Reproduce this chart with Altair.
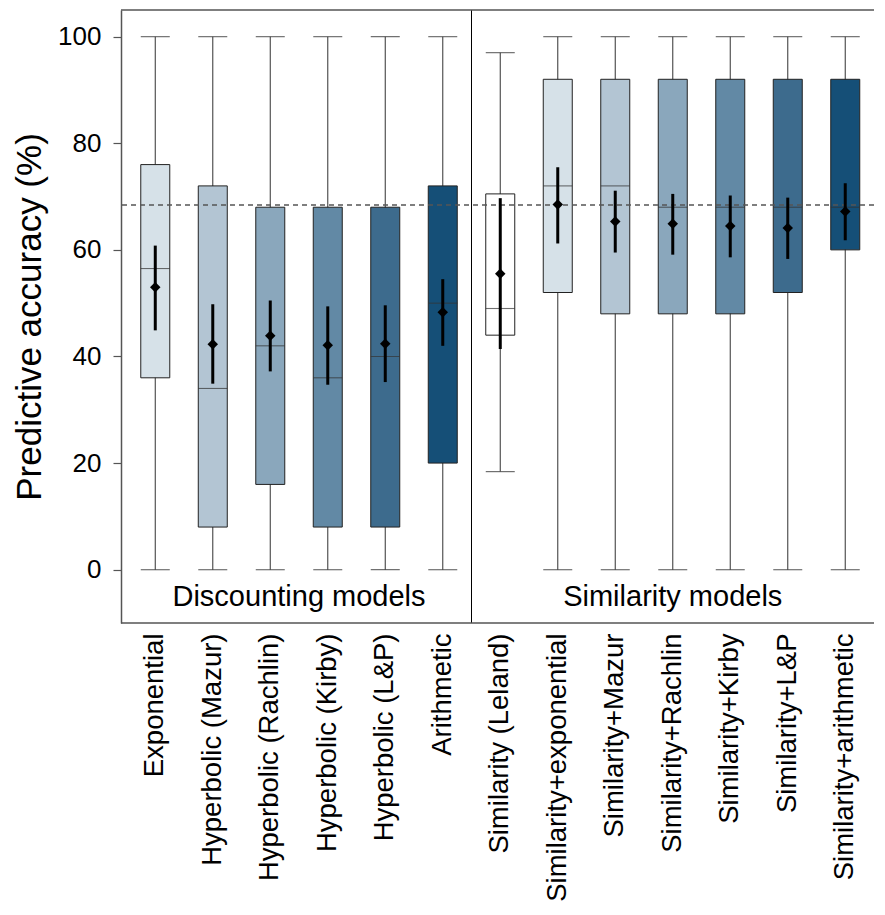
import altair as alt
import pandas as pd

models = [
    "Exponential", "Hyperbolic (Mazur)", "Hyperbolic (Rachlin)", "Hyperbolic (Kirby)",
    "Hyperbolic (L&P)", "Arithmetic", "Similarity (Leland)", "Similarity+exponential",
    "Similarity+Mazur", "Similarity+Rachlin", "Similarity+Kirby", "Similarity+L&P",
    "Similarity+arithmetic",
]
whisker_low = [0, 0, 0, 0, 0, 0, 18.4, 0, 0, 0, 0, 0, 0]
q1 = [36, 8, 16, 8, 8, 20, 44, 52, 48, 48, 48, 52, 60]
median = [56.5, 34, 42, 36, 40, 50, 49, 72, 72, 68, 68, 68, 68]
q3 = [76, 72, 68, 68, 68, 72, 70.5, 92, 92, 92, 92, 92, 92]
whisker_high = [100, 100, 100, 100, 100, 100, 97, 100, 100, 100, 100, 100, 100]
mean = [53.0, 42.3, 43.9, 42.1, 42.4, 48.3, 55.5, 68.5, 65.3, 64.9, 64.5, 64.1, 67.2]
ci_low = [44.9, 34.9, 37.2, 34.7, 35.2, 42.0, 41.4, 61.2, 59.5, 59.1, 58.6, 58.3, 61.8]
ci_high = [60.8, 49.8, 50.5, 49.4, 49.6, 54.5, 69.7, 75.5, 71.1, 70.5, 70.2, 69.8, 72.5]
fills = ["#d6e1e8", "#b3c5d3", "#8aa7bc", "#6289a5", "#3d6b8d", "#154f77",
         "#ffffff", "#d6e1e8", "#b3c5d3", "#8aa7bc", "#6289a5", "#3d6b8d", "#154f77"]
y_ticks = [0, 20, 40, 60, 80, 100]
y_domain = [-10, 105]
y_title = "Predictive accuracy (%)"
reference_line = 68.4
group_labels = ["Discounting models", "Similarity models"]
group_anchor = ["Hyperbolic (Kirby)", "Similarity+Rachlin"]
group_band = [0.0, 0.5]
group_label_y = -5.1
divider_at = "Similarity (Leland)"

df = pd.DataFrame({
    "model": models, "lo": whisker_low, "q1": q1, "med": median, "q3": q3,
    "hi": whisker_high, "mean": mean, "cil": ci_low, "cih": ci_high, "fill": fills,
})

FONT = "Liberation Sans"
W, H = 753, 613
BOXW = 29
FRAME = "#555"

xscale = alt.Scale(domain=models, paddingInner=0, paddingOuter=0.048, align=1)
yscale = alt.Scale(domain=y_domain, nice=False, zero=False)

xaxis = alt.Axis(
    labelAngle=-90, labelFont=FONT, labelFontSize=27.5, labelColor="black",
    ticks=False, domain=False, labelPadding=10, labelLimit=500, grid=False,
)
yaxis = alt.Axis(
    values=y_ticks, tickSize=8, tickColor=FRAME, tickWidth=1.2,
    labelFont=FONT, labelFontSize=26, labelColor="black", labelPadding=12,
    titleFont=FONT, titleFontSize=35, titleFontWeight="normal", titleColor="black",
    titlePadding=10, grid=False, domain=True, domainColor=FRAME, domainWidth=1.5,
)

def X(axis=None, **kw):
    if axis is None:
        return alt.X("model:N", scale=xscale, title=None, **kw)
    return alt.X("model:N", scale=xscale, axis=axis, title=None, **kw)

def Y(f, axis=None):
    if axis is None:
        return alt.Y(f"{f}:Q", scale=yscale, title=y_title)
    return alt.Y(f"{f}:Q", scale=yscale, axis=axis, title=y_title)

base = alt.Chart(df)

whisk = base.mark_rule(color="#444", strokeWidth=1.1).encode(
    x=X(xaxis), y=Y("lo", yaxis), y2="hi:Q")
cap_lo = base.mark_tick(size=BOXW, thickness=1.2, color="#333").encode(x=X(), y=Y("lo"))
cap_hi = base.mark_tick(size=BOXW, thickness=1.2, color="#333").encode(x=X(), y=Y("hi"))
box = base.mark_bar(size=BOXW, stroke="#222", strokeWidth=1).encode(
    x=X(), y=Y("q1"), y2="q3:Q", fill=alt.Fill("fill:N", scale=None))
med = base.mark_tick(size=BOXW, thickness=1.1, color="#333").encode(x=X(), y=Y("med"))
ci = base.mark_rule(color="black", strokeWidth=3).encode(x=X(), y=Y("cil"), y2="cih:Q")
pt = base.mark_point(shape="diamond", filled=True, color="black", size=110, opacity=1).encode(
    x=X(), y=Y("mean"))

ref = alt.Chart(pd.DataFrame({"v": [reference_line]})).mark_rule(
    color="#555", strokeDash=[5, 4], strokeWidth=1.5).encode(y=Y("v"))

frame = alt.Chart(pd.DataFrame({"v": y_domain})).mark_rule(
    color=FRAME, strokeWidth=1.5).encode(y=Y("v"))

div = alt.Chart(pd.DataFrame({"model": [divider_at], "a": [y_domain[0]], "b": [y_domain[1]]})).mark_rule(
    color="black", strokeWidth=1).encode(
    x=X(bandPosition=0), y=Y("a"), y2="b:Q")

texts = []
for lab, anc, bp in zip(group_labels, group_anchor, group_band):
    texts.append(
        alt.Chart(pd.DataFrame({"model": [anc], "lab": [lab], "y": [group_label_y]})).mark_text(
            font=FONT, fontSize=29, color="black", baseline="middle", align="center").encode(
            x=X(bandPosition=bp), y=Y("y"), text="lab:N"))

chart = alt.layer(whisk, cap_lo, cap_hi, box, med, ref, ci, pt, div, frame, *texts).properties(
    width=W, height=H, padding={"left": 4, "top": 1, "right": 0, "bottom": 0}
).configure_view(strokeWidth=0)

chart.save("out.html", embed_options={"renderer": "svg", "actions": False})
